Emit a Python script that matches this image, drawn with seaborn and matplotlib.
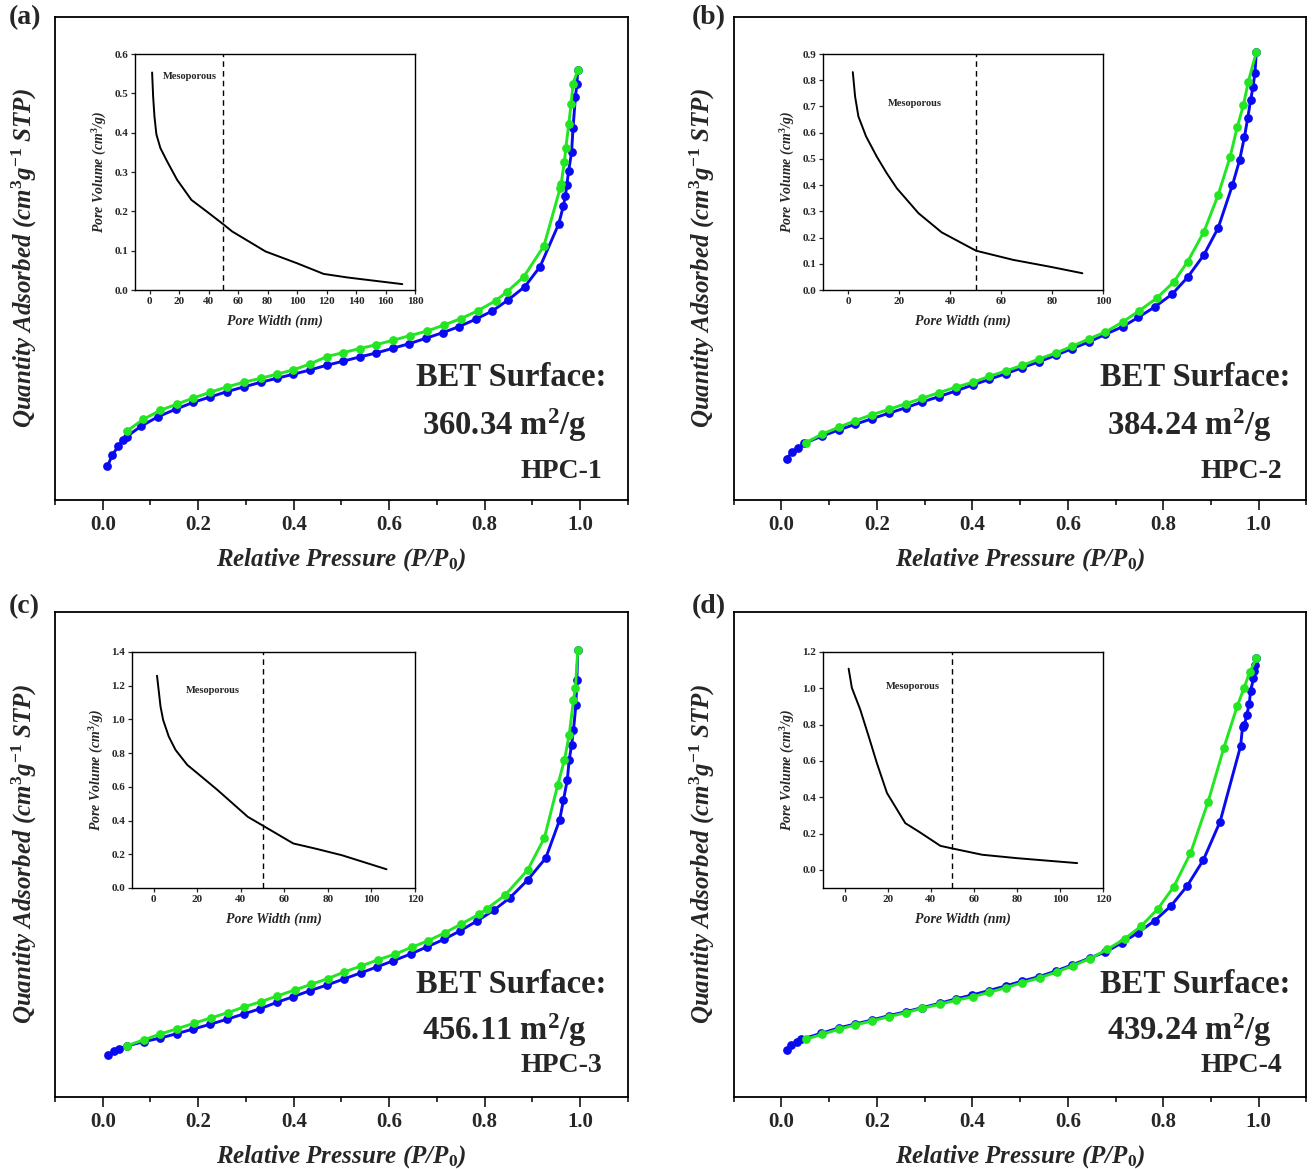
import matplotlib
matplotlib.use("Agg")
import matplotlib.pyplot as plt
from matplotlib.ticker import MultipleLocator, FormatStrFormatter
import seaborn as sns

# ---------------- N2 isotherms (P/P0 vs quantity adsorbed, unlabelled scale) ----------------
# HPC-1
p_ads_1 = [0.010, 0.020, 0.033, 0.043, 0.050, 0.081, 0.116, 0.154, 0.190, 0.225,
           0.260, 0.295, 0.331, 0.365, 0.399, 0.434, 0.469, 0.503, 0.538, 0.573,
           0.608, 0.642, 0.677, 0.712, 0.746, 0.781, 0.816, 0.849, 0.884, 0.916,
           0.955, 0.965, 0.969, 0.972, 0.976, 0.982, 0.985, 0.990, 0.993, 0.995]
q_ads_1 = [34, 44.7, 54.3, 60, 63.3, 74, 83.3, 91, 97.7, 103,
           108.3, 113, 117.7, 121.7, 125.7, 130, 134.7, 138.7, 143, 147,
           151.7, 156.3, 161.7, 167.3, 173.3, 180.7, 189, 200, 213.3, 233.3,
           276, 294.3, 304, 315, 329.3, 348, 371.7, 402.7, 415.7, 430]
p_des_1 = [0.051, 0.085, 0.121, 0.156, 0.190, 0.225, 0.260, 0.295, 0.331, 0.364,
           0.399, 0.434, 0.469, 0.503, 0.538, 0.573, 0.608, 0.643, 0.680, 0.715,
           0.750, 0.786, 0.823, 0.847, 0.882, 0.924, 0.958, 0.960, 0.967, 0.970,
           0.976, 0.981, 0.985, 0.995]
q_des_1 = [69, 80.7, 89.7, 96, 102, 107.7, 113, 117.7, 121.7, 125.7,
           130, 136, 143.3, 147.3, 151.3, 155.3, 159.7, 164.3, 169, 175,
           181.3, 189.3, 199.3, 208.3, 223.3, 254, 311.7, 316, 338.3, 352.3,
           375.7, 396, 416, 430]

# HPC-2
p_ads_2 = [0.011, 0.023, 0.036, 0.048, 0.086, 0.120, 0.155, 0.190, 0.225, 0.261,
           0.295, 0.330, 0.365, 0.401, 0.436, 0.470, 0.505, 0.540, 0.575, 0.609,
           0.644, 0.679, 0.715, 0.748, 0.783, 0.819, 0.851, 0.885, 0.915, 0.945,
           0.960, 0.970, 0.977, 0.983, 0.988, 0.992, 0.995]
q_ads_2 = [41.3, 48, 52, 56.7, 64, 70, 75.7, 81.3, 86.7, 92.3,
           98, 103.3, 109, 115, 120.7, 126.3, 132.3, 138.3, 144.7, 151.3,
           158, 165.7, 173.3, 182.7, 193.3, 206, 222.7, 245, 272, 315,
           340, 363, 382, 400, 413, 427, 448]
p_des_2 = [0.051, 0.086, 0.120, 0.155, 0.190, 0.226, 0.261, 0.295, 0.330, 0.365,
           0.401, 0.436, 0.470, 0.505, 0.540, 0.575, 0.609, 0.644, 0.679, 0.715,
           0.750, 0.786, 0.822, 0.851, 0.885, 0.915, 0.940, 0.955, 0.968, 0.978,
           0.995]
q_des_2 = [57.3, 66, 72.7, 79.3, 85.3, 90.7, 96.3, 101.7, 107.3, 112.7,
           117.7, 123.7, 129, 134.7, 141, 147, 153.7, 161, 168, 178,
           189.3, 201.7, 218, 238.3, 268, 305, 343, 373, 395, 418,
           448]

# HPC-3
p_ads_3 = [0.012, 0.024, 0.035, 0.050, 0.086, 0.121, 0.155, 0.190, 0.225, 0.260,
           0.295, 0.330, 0.365, 0.399, 0.434, 0.470, 0.505, 0.540, 0.574, 0.609,
           0.645, 0.680, 0.715, 0.749, 0.784, 0.819, 0.853, 0.890, 0.928, 0.957,
           0.965, 0.973, 0.977, 0.982, 0.986, 0.991, 0.993, 0.995]
q_ads_3 = [41.7, 45.7, 48.3, 51, 55.3, 59, 63.3, 68, 72.7, 77.7,
           83, 88.3, 94.7, 100.3, 106.3, 112, 118, 124, 130, 136.3,
           143, 150.3, 157.7, 166.3, 176, 186.7, 199.3, 217, 239, 277,
           297, 317, 337, 352, 367, 392, 417, 447]
p_des_3 = [0.051, 0.087, 0.121, 0.156, 0.191, 0.226, 0.262, 0.296, 0.331, 0.366,
           0.402, 0.437, 0.471, 0.506, 0.541, 0.576, 0.613, 0.647, 0.682, 0.717,
           0.751, 0.788, 0.805, 0.843, 0.890, 0.925, 0.953, 0.967, 0.977, 0.986,
           0.990, 0.995]
q_des_3 = [51.3, 57.3, 63, 68.3, 73.7, 79, 84.3, 90, 95.3, 101,
           107, 112.7, 118.3, 125, 131, 137, 143, 149.7, 156.3, 164.3,
           173, 182.7, 188.3, 202, 227, 259, 312, 337, 362, 397,
           409, 447]

# HPC-4
p_ads_4 = [0.011, 0.021, 0.032, 0.042, 0.084, 0.120, 0.155, 0.190, 0.225, 0.261,
           0.295, 0.332, 0.365, 0.400, 0.434, 0.470, 0.505, 0.540, 0.575, 0.609,
           0.646, 0.679, 0.714, 0.747, 0.782, 0.816, 0.850, 0.884, 0.919, 0.962,
           0.966, 0.970, 0.975, 0.980, 0.983, 0.989, 0.991, 0.993, 0.995]
q_ads_4 = [47, 52, 55.3, 57.7, 63.7, 69, 73, 77, 81.3, 85.3,
           89.3, 93.7, 98, 102, 106.3, 111, 116, 120.3, 126, 132,
           139, 145, 154.3, 164.3, 176.3, 191, 211, 237, 275.3, 351,
           369.7, 372, 382, 393, 406, 418.7, 426, 432, 438.7]
p_des_4 = [0.051, 0.086, 0.120, 0.155, 0.190, 0.225, 0.261, 0.295, 0.332, 0.366,
           0.401, 0.436, 0.470, 0.505, 0.542, 0.577, 0.611, 0.646, 0.683, 0.719,
           0.754, 0.789, 0.822, 0.857, 0.894, 0.927, 0.955, 0.969, 0.981, 0.995]
q_des_4 = [57.7, 62.7, 67.7, 72, 76, 80.3, 84.3, 88.7, 92.7, 96.7,
           100.3, 104.7, 109.3, 114.3, 119.3, 125, 131.3, 138.3, 147.7, 158,
           171, 188.3, 210.3, 243.7, 295.3, 349.3, 391, 408.7, 424.7, 438.7]

# ---------------- pore size distribution insets ----------------
w_psd_1 = [1.6, 2.3, 3.2, 4.5, 7.2, 11.8, 18.6, 28.3, 38.9, 50.3, 55.9, 78.6, 100, 118, 134, 171.4]
v_psd_1 = [0.553, 0.492, 0.441, 0.396, 0.361, 0.327, 0.280, 0.229, 0.199, 0.166, 0.149, 0.098, 0.068, 0.041, 0.032, 0.015]
w_psd_2 = [1.7, 2.6, 3.9, 6.9, 11.1, 15, 19, 27.5, 36.6, 50.1, 64.7, 79.1, 91.9]
v_psd_2 = [0.831, 0.738, 0.662, 0.586, 0.509, 0.446, 0.388, 0.293, 0.220, 0.150, 0.115, 0.089, 0.064]
w_psd_3 = [1.5, 3.1, 4.3, 6.9, 10, 15.4, 20.1, 29.3, 43.2, 49.7, 64.1, 74.1, 86.5, 106.9]
v_psd_3 = [1.259, 1.077, 0.997, 0.898, 0.819, 0.730, 0.680, 0.581, 0.422, 0.373, 0.264, 0.234, 0.194, 0.111]
w_psd_4 = [1.9, 3.4, 7.3, 11.2, 15, 19.7, 28.2, 34.4, 44.5, 49.9, 63.9, 80.2, 108]
v_psd_4 = [1.108, 1.002, 0.882, 0.735, 0.588, 0.423, 0.257, 0.211, 0.132, 0.118, 0.083, 0.064, 0.037]

panel_tags = ["(a)", "(b)", "(c)", "(d)"]
sample_names = ["HPC-1", "HPC-2", "HPC-3", "HPC-4"]
bet_values = ["360.34", "384.24", "456.11", "439.24"]
meso_boundary = 50

isotherms = [(p_ads_1, q_ads_1, p_des_1, q_des_1),
             (p_ads_2, q_ads_2, p_des_2, q_des_2),
             (p_ads_3, q_ads_3, p_des_3, q_des_3),
             (p_ads_4, q_ads_4, p_des_4, q_des_4)]
psds = [(w_psd_1, v_psd_1), (w_psd_2, v_psd_2), (w_psd_3, v_psd_3), (w_psd_4, v_psd_4)]

# layout / styling
main_rects = [[0.0419, 0.5723, 0.4367, 0.4132], [0.5591, 0.5723, 0.4367, 0.4132],
              [0.0419, 0.0616, 0.4367, 0.4149], [0.5591, 0.0616, 0.4367, 0.4149]]
inset_rects = [[0.1029, 0.7519, 0.2134, 0.2019], [0.6273, 0.7519, 0.2134, 0.2019],
               [0.1006, 0.2404, 0.2157, 0.2019], [0.6273, 0.2404, 0.2134, 0.2019]]
main_ylims = [(0, 483), (0, 483), (0, 485), (0, 485)]
inset_xlims = [(-10, 180), (-10, 100), (-10, 120), (-10, 120)]
inset_ylims = [(0, 0.6), (0, 0.9), (0, 1.4), (-0.1, 1.2)]
inset_ysteps = [0.1, 0.1, 0.2, 0.2]
meso_pos = [(9, 0.543), (15.4, 0.710), (14.7, 1.17), (19.4, 1.007)]
text_x = [(0.796, 0.784, 0.955), (0.805, 0.795, 0.957), (0.796, 0.784, 0.955), (0.805, 0.795, 0.957)]
text_y = [(0.253, 0.155, 0.058), (0.253, 0.155, 0.058), (0.231, 0.138, 0.064), (0.231, 0.138, 0.064)]
tag_pos = [(0.007, 0.9846), (0.527, 0.9846), (0.007, 0.4808), (0.527, 0.4808)]

ADS_COLOR = "#0a0af0"
DES_COLOR = "#22e622"

sns.set_style("ticks")
plt.rcParams["font.family"] = ["Liberation Serif", "DejaVu Serif"]
plt.rcParams["font.weight"] = "bold"
plt.rcParams["mathtext.fontset"] = "custom"
plt.rcParams["mathtext.rm"] = "Liberation Serif:bold"
plt.rcParams["mathtext.it"] = "Liberation Serif:bold:italic"
plt.rcParams["mathtext.bf"] = "Liberation Serif:bold"
plt.rcParams["axes.edgecolor"] = "black"

fig = plt.figure(figsize=(13.12, 11.69), dpi=100)

for i in range(4):
    p_ads, q_ads, p_des, q_des = isotherms[i]
    ax = fig.add_axes(main_rects[i])
    sns.lineplot(x=p_ads, y=q_ads, ax=ax, color=ADS_COLOR, marker="o", markersize=6.3,
                 markeredgewidth=0, linewidth=2.1, sort=False, estimator=None)
    sns.lineplot(x=p_des, y=q_des, ax=ax, color=DES_COLOR, marker="o", markersize=6.3,
                 markeredgewidth=0, linewidth=2.1, sort=False, estimator=None)
    ax.set_xlim(-0.1, 1.1)
    ax.set_ylim(*main_ylims[i])
    ax.set_xticks([0.0, 0.2, 0.4, 0.6, 0.8, 1.0])
    ax.xaxis.set_major_formatter(FormatStrFormatter("%.1f"))
    ax.xaxis.set_minor_locator(MultipleLocator(0.1))
    ax.set_yticks([])
    ax.tick_params(axis="x", which="major", length=7, width=1.3, labelsize=15, pad=4)
    ax.tick_params(axis="x", which="minor", length=3.5, width=1.3)
    for sp in ax.spines.values():
        sp.set_linewidth(1.3)
        sp.set_visible(True)
    ax.set_xlabel(r"Relative Pressure (P/P$_{\mathit{0}}$)", fontsize=18,
                  fontstyle="italic", fontweight="bold")
    ax.set_ylabel(r"Quantity Adsorbed (cm$^{\mathit{3}}$g$^{\mathit{-1}}$ STP)", fontsize=18,
                  fontstyle="italic", fontweight="bold")
    ax.xaxis.set_label_coords(0.5, -0.095)
    ax.yaxis.set_label_coords(-0.028, 0.5)

    tx, ty = text_x[i], text_y[i]
    ax.text(tx[0], ty[0], "BET Surface:", transform=ax.transAxes, fontsize=23.5,
            fontweight="bold", ha="center", va="center")
    ax.text(tx[1], ty[1], bet_values[i] + r" m$^{2}$/g", transform=ax.transAxes,
            fontsize=23.5, fontweight="bold", ha="center", va="center")
    ax.text(tx[2], ty[2], sample_names[i], transform=ax.transAxes, fontsize=20,
            fontweight="bold", ha="right", va="center")

    fig.text(tag_pos[i][0], tag_pos[i][1], panel_tags[i], fontsize=20,
             fontweight="bold", ha="left", va="center")

    # inset: pore size distribution
    w, v = psds[i]
    ins = fig.add_axes(inset_rects[i])
    sns.lineplot(x=w, y=v, ax=ins, color="black", linewidth=1.4, sort=False, estimator=None)
    ins.axvline(meso_boundary, color="black", linestyle=(0, (4, 3)), linewidth=1)
    ins.set_xlim(*inset_xlims[i])
    ins.set_ylim(*inset_ylims[i])
    ins.xaxis.set_major_locator(MultipleLocator(20))
    ins.yaxis.set_major_locator(MultipleLocator(inset_ysteps[i]))
    ins.yaxis.set_major_formatter(FormatStrFormatter("%.1f"))
    ins.tick_params(labelsize=8, length=3, width=0.9, pad=2)
    for sp in ins.spines.values():
        sp.set_linewidth(1)
    ins.set_xlabel("Pore Width (nm)", fontsize=10, fontstyle="italic", fontweight="bold", labelpad=6)
    ins.set_ylabel(r"Pore Volume (cm$^{\mathit{3}}$/g)", fontsize=10, fontstyle="italic",
                   fontweight="bold", labelpad=4)
    ins.text(meso_pos[i][0], meso_pos[i][1], "Mesoporous", fontsize=7.5,
             fontweight="bold", ha="left", va="center")

fig.savefig("out.png", dpi=100)
